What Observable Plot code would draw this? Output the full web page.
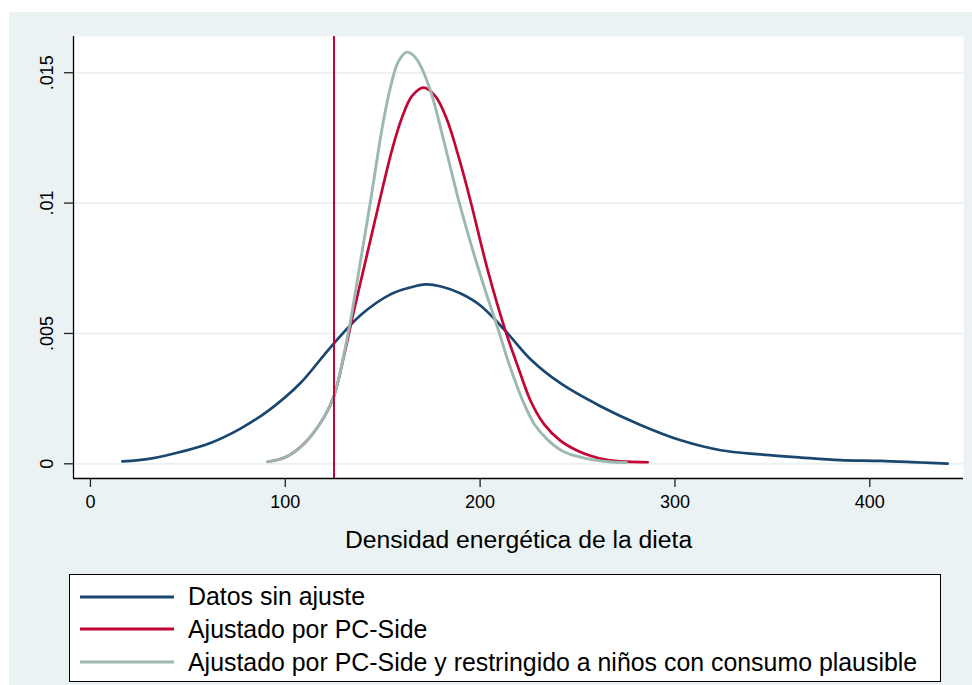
<!DOCTYPE html>
<html>
<head>
<meta charset="utf-8">
<script src="https://cdn.jsdelivr.net/npm/d3@7"></script>
<script src="https://cdn.jsdelivr.net/npm/@observablehq/plot@0.6"></script>
<style>
  html, body { margin: 0; padding: 0; background: #ffffff; }
  #page { position: relative; width: 972px; height: 685px; overflow: hidden; background: #ffffff; font-family: Arial, "Liberation Sans", sans-serif; }
  #region { position: absolute; left: 9px; top: 12px; width: 963px; height: 673px; background: #eaf2f3; }
  #chart { position: absolute; left: 0; top: 0; }
  #legend { position: absolute; left: 60px; top: 562px; width: 872px; height: 108px; border: 1px solid #000; background: #fff; box-sizing: border-box; }
  .row { position: absolute; left: 0; height: 30px; display: flex; align-items: center; }
  .row svg { margin-left: 10px; }
  .row span { margin-left: 14px; font-size: 24.9px; color: #000; white-space: nowrap; }
</style>
</head>
<body>
<div id="page"><div id="region"><div id="chart"></div><div id="legend"></div></div></div>
<script>
// Datos sin ajuste
const datosX = [16.4, 30.8, 46, 61.6, 77, 92.4, 107.8, 123, 138.6, 154, 164, 172, 180, 190, 200, 213, 226, 241, 262, 282, 303, 323.5, 344, 364.6, 385, 405.6, 426, 440];
const datosY = [0.00009, 0.0002, 0.00045, 0.0008, 0.00135, 0.0021, 0.0031, 0.00445, 0.0057, 0.0065, 0.00676, 0.00688, 0.0068, 0.00653, 0.00608, 0.0051, 0.0040, 0.0031, 0.0022, 0.0015, 0.0009, 0.00052, 0.00036, 0.00024, 0.00014, 0.00011, 0.00005, 0.00001];
// Ajustado por PC-Side
const pcX = [91, 100, 110, 120, 125, 130, 135, 140, 145, 150, 155, 160, 165, 171, 177, 183, 190, 195, 204, 213, 220, 226, 233, 241, 250, 257, 265, 275, 286];
const pcY = [0.00008, 0.00025, 0.0008, 0.0018, 0.0026, 0.0041, 0.0058, 0.0074, 0.0090, 0.0106, 0.0121, 0.0133, 0.0141, 0.01443, 0.0141, 0.0132, 0.0115, 0.0101, 0.0074, 0.0051, 0.0036, 0.0024, 0.0015, 0.0009, 0.0005, 0.0003, 0.00015, 0.00008, 0.00006];
// Ajustado por PC-Side y restringido a niños con consumo plausible
const resX = [91, 100, 110, 120, 125, 132.5, 138, 143.8, 150, 154, 158, 162.3, 166, 170, 175, 182, 189, 195, 202, 209.5, 215, 222, 228, 235, 242, 249, 258, 266, 275];
const resY = [0.00008, 0.00025, 0.0008, 0.0018, 0.0026, 0.0051, 0.0075, 0.0101, 0.0130, 0.01445, 0.01542, 0.01579, 0.01565, 0.01518, 0.0142, 0.0122, 0.0101, 0.0085, 0.0068, 0.0051, 0.0038, 0.0024, 0.0015, 0.0009, 0.0005, 0.0003, 0.00015, 0.00008, 0.00005];

const xTicks = [0, 100, 200, 300, 400];
const yTicks = [0, 0.005, 0.01, 0.015];
const yTickLabels = ["0", ".005", ".01", ".015"];
const refLine = [125];
const seriesNames = ["Datos sin ajuste", "Ajustado por PC-Side", "Ajustado por PC-Side y restringido a niños con consumo plausible"];
const xTitle = "Densidad energética de la dieta";

const colors = ["#1a476f", "#c10534", "#9bb8b1"];
const xDomain = [-8.7, 448.1];
const yDomain = [-0.000564, 0.01639];

const toRows = (xs, ys) => xs.map((x, i) => ({x, y: ys[i]}));
const datos = toRows(datosX, datosY);
const pc = toRows(pcX, pcY);
const res = toRows(resX, resY);

const chart = Plot.plot({
  width: 963,
  height: 550,
  marginLeft: 64,
  marginTop: 24,
  marginRight: 9,
  marginBottom: 84,
  style: {background: "transparent", fontFamily: "Arial, 'Liberation Sans', sans-serif", color: "#000"},
  x: {domain: xDomain},
  y: {domain: yDomain},
  marks: [
    Plot.frame({fill: "#ffffff", stroke: null}),
    Plot.gridY(yTicks, {stroke: "#eaf2f3", strokeOpacity: 1, strokeWidth: 2}),
    Plot.line(datos, {x: "x", y: "y", stroke: colors[0], strokeWidth: 2.7, curve: "catmull-rom"}),
    Plot.line(pc, {x: "x", y: "y", stroke: colors[1], strokeWidth: 2.7, curve: "catmull-rom"}),
    Plot.line(res, {x: "x", y: "y", stroke: colors[2], strokeWidth: 2.9, curve: "catmull-rom"}),
    Plot.ruleX(refLine, {stroke: colors[1], strokeWidth: 2}),
    Plot.ruleX([xDomain[0]], {stroke: "#000", strokeWidth: 1.3}),
    Plot.ruleY([yDomain[0]], {stroke: "#000", strokeWidth: 1.3}),
    Plot.axisX(xTicks, {tickSize: 9, tickPadding: 8, fontSize: 18, label: null, stroke: "#222", strokeWidth: 1.3}),
    Plot.axisY(yTicks, {tickSize: 9, tickFormat: () => "", label: null, stroke: "#222", strokeWidth: 1.3}),
    Plot.text(yTicks, {y: d => d, text: (d, i) => yTickLabels[i], frameAnchor: "left", rotate: -90, dx: -26, fontSize: 18, textAnchor: "middle", lineAnchor: "middle", fill: "#000"}),
    Plot.text([xTitle], {text: d => d, frameAnchor: "bottom", dy: 62, lineAnchor: "middle", textAnchor: "middle", fontSize: 24.7, fill: "#000"})
  ]
});
document.getElementById("chart").appendChild(chart);

const legend = document.getElementById("legend");
const rowCenters = [22.7, 55.3, 88.3];
seriesNames.forEach((name, i) => {
  const row = document.createElement("div");
  row.className = "row";
  row.style.top = (rowCenters[i] - 1 - 15) + "px";
  row.innerHTML = `<svg width="94" height="6"><line x1="0" x2="94" y1="3" y2="3" stroke="${colors[i]}" stroke-width="3"/></svg><span>${name}</span>`;
  legend.appendChild(row);
});
</script>
</body>
</html>
